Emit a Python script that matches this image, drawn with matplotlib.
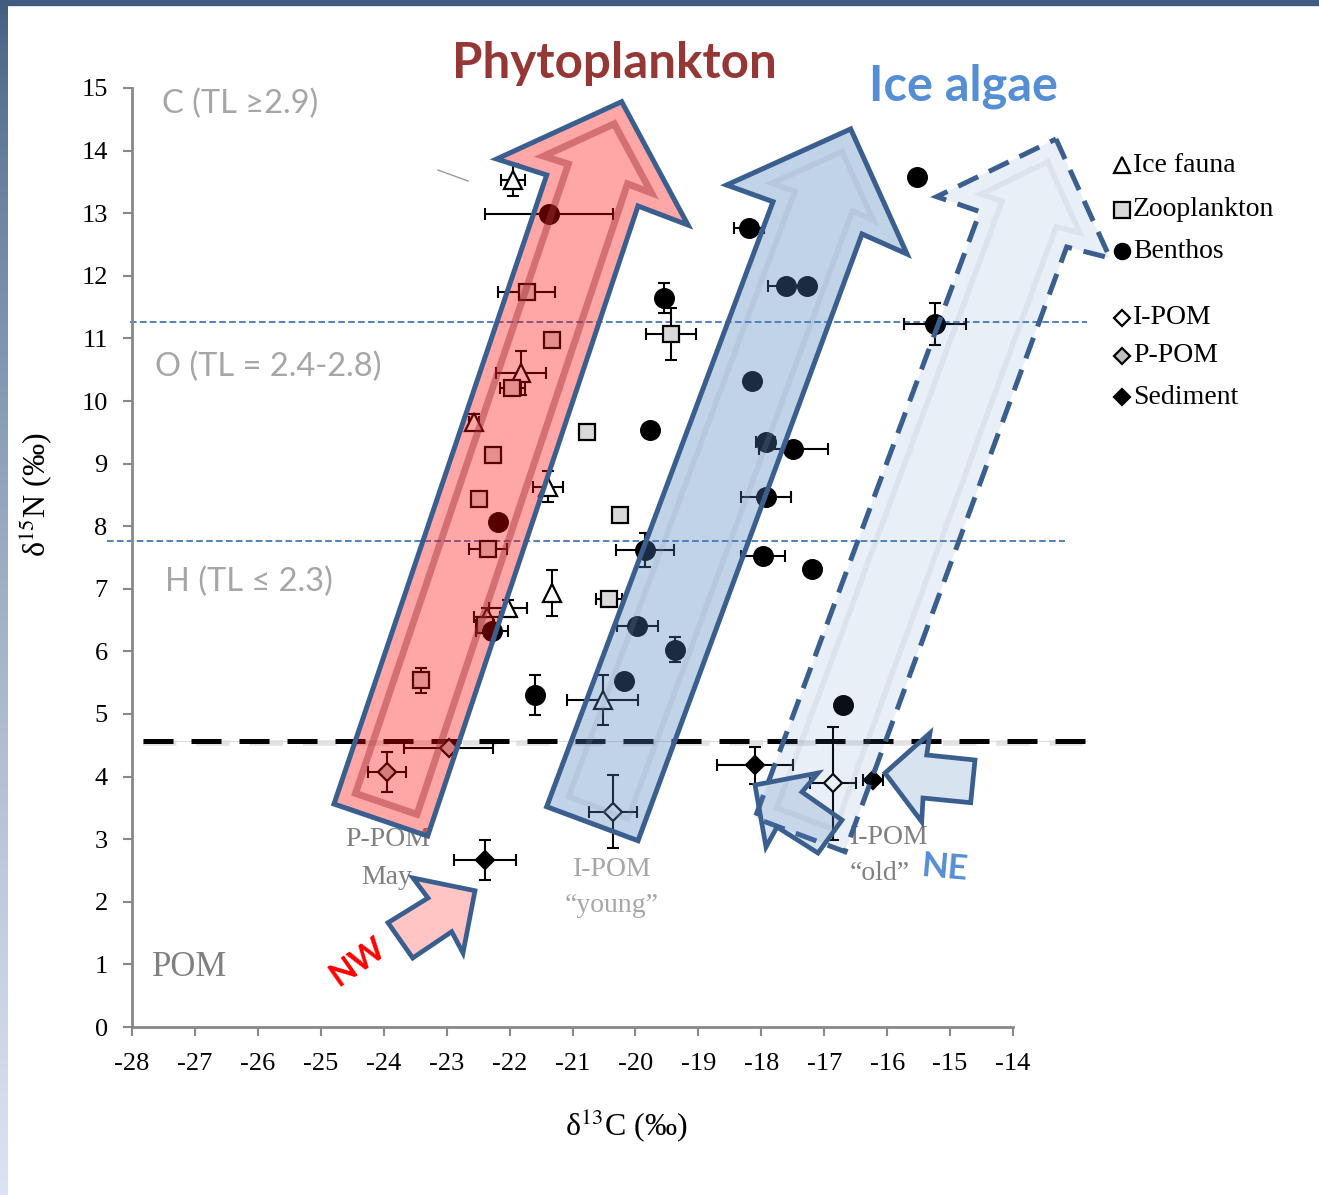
"""Stable isotope biplot (d13C vs d15N) with source arrows"""
import numpy as np
import matplotlib
matplotlib.use('Agg')
import matplotlib.pyplot as plt
from matplotlib.patches import Polygon, Rectangle
from matplotlib.transforms import Affine2D

plt.rcParams['font.family'] = ['Liberation Serif', 'DejaVu Serif']
plt.rcParams['mathtext.fontset'] = 'stix'
plt.rcParams['axes.unicode_minus'] = False

W, H, DPI = 1319, 1195, 100

# ===== data (d13C, d15N, error bars) =====
ice_x = [-21.95, -21.82, -22.57, -21.39, -21.32, -22.02, -22.36, -20.52]
ice_y = [13.53, 10.45, 9.67, 8.63, 6.93, 6.70, 6.55, 5.22]
ice_xe = [0.19, 0.40, 0.08, 0.24, 0.0, 0.30, 0.20, 0.56]
ice_ye = [0.26, 0.35, 0.12, 0.25, 0.37, 0.12, 0.15, 0.40]

zoo_x = [-21.73, -21.33, -21.96, -22.26, -22.49, -22.34, -20.77, -20.25, -19.43, -20.42, -23.41, -22.39]
zoo_y = [11.74, 10.97, 10.21, 9.14, 8.43, 7.64, 9.50, 8.18, 11.07, 6.84, 5.54, 6.42]
zoo_xe = [0.45, 0.0, 0.20, 0.10, 0.0, 0.30, 0.0, 0.0, 0.40, 0.20, 0.0, 0.15]
zoo_ye = [0.0, 0.0, 0.10, 0.05, 0.0, 0.05, 0.0, 0.0, 0.42, 0.05, 0.20, 0.10]

ben_x = [-21.37, -19.55, -19.77, -22.18, -19.85, -22.28, -21.60, -19.97, -19.37, -20.18, -18.20,
         -17.61, -17.27, -18.15, -17.93, -17.49, -17.92, -17.97, -17.20, -15.53, -15.24, -16.70]
ben_y = [12.99, 11.64, 9.54, 8.07, 7.62, 6.32, 5.30, 6.40, 6.03, 5.52, 12.77,
         11.84, 11.84, 10.32, 9.35, 9.23, 8.47, 7.52, 7.31, 13.58, 11.23, 5.14]
ben_xe = [1.02, 0.0, 0.0, 0.0, 0.46, 0.26, 0.0, 0.33, 0.0, 0.0, 0.24,
          0.28, 0.0, 0.0, 0.15, 0.55, 0.40, 0.35, 0.0, 0.0, 0.49, 0.0]
ben_ye = [0.0, 0.24, 0.0, 0.0, 0.27, 0.0, 0.32, 0.0, 0.20, 0.0, 0.0,
          0.0, 0.0, 0.0, 0.0, 0.0, 0.0, 0.0, 0.0, 0.0, 0.33, 0.0]

ipom_x = [-20.35, -16.86]
ipom_y = [3.44, 3.89]
ipom_xe = [0.38, 0.37]
ipom_ye = [0.58, 0.90]

ppom_x = [-23.95, -22.97]
ppom_y = [4.08, 4.45]
ppom_xe = [0.30, 0.70]
ppom_ye = [0.32, 0.05]

sed_x = [-22.39, -18.10, -16.22]
sed_y = [2.67, 4.18, 3.95]
sed_xe = [0.49, 0.60, 0.16]
sed_ye = [0.32, 0.30, 0.0]

tl_bounds = [11.26, 7.76]   # trophic level boundaries
pom_bound = 4.57

fig = plt.figure(figsize=(W / DPI, H / DPI), dpi=DPI)
fig.patch.set_facecolor('white')
# pixel coordinates, origin top-left
pix = Affine2D().scale(1 / DPI, -1 / DPI).translate(0, H / DPI) + fig.dpi_scale_trans

# ===== slide frame =====
bg = fig.add_axes([0, 0, 1, 1], zorder=-5)
grad = np.linspace(0, 1, 256)[:, None, None]
c0 = np.array([0x40, 0x5C, 0x80]) / 255
c1 = np.array([0xDC, 0xE4, 0xF3]) / 255
bg.imshow(c0 + (c1 - c0) * grad ** 0.7, extent=(0, 8, H, 0), aspect='auto')
bg.add_patch(Rectangle((0, 0), W, 5, color='#405C80'))
bg.set_xlim(0, W)
bg.set_ylim(H, 0)
bg.axis('off')

# ===== main axes =====
ax = fig.add_axes([132 / W, 1 - 1027 / H, 881 / W, 939 / H])
ax.set_xlim(-28, -14)
ax.set_ylim(0, 15)
ax.set_xticks(range(-28, -13))
ax.set_yticks(range(0, 16))
for s in ['top', 'right']:
    ax.spines[s].set_visible(False)
for s in ['left', 'bottom']:
    ax.spines[s].set_color('#888888')
    ax.spines[s].set_linewidth(2)
ax.tick_params(direction='out', length=6.5, width=1.5, color='#888888', labelsize=19)
ax.tick_params(axis='y', pad=11)
ax.tick_params(axis='x', pad=12)

# reference lines
for yb, x0, x1 in zip(tl_bounds, [-28.03, -28.4], [-12.82, -13.17]):
    ax.plot([x0, x1], [yb, yb], color='#4F81BD', lw=1.4, ls=(0, (3.4, 1.7)),
            clip_on=False, zorder=2)
ax.plot([-27.83, -12.82], [pom_bound, pom_bound], color='#DDDDDD', lw=0.8, clip_on=False, zorder=2)
ax.plot([-27.83, -12.82], [pom_bound - 0.04, pom_bound - 0.04], color='#BBBBBB', lw=4, alpha=0.4,
        ls=(0, (6, 3.6)), clip_on=False, zorder=1.9)
ax.plot([-27.83, -12.82], [pom_bound, pom_bound], color='black', lw=3.6, ls=(0, (6, 3.6)),
        clip_on=False, zorder=2)


def group(x, y, xe, ye, marker, ms, fc):
    x, y, xe, ye = map(np.asarray, (x, y, xe, ye))
    m = xe > 0
    ax.errorbar(x[m], y[m], xerr=xe[m], fmt='none', ecolor='black', elinewidth=1.5,
                capsize=4.5, capthick=1.5, zorder=3)
    m = ye > 0
    ax.errorbar(x[m], y[m], yerr=ye[m], fmt='none', ecolor='black', elinewidth=1.5,
                capsize=4.5, capthick=1.5, zorder=3)
    ax.plot(x, y, ls='none', marker=marker, ms=ms, mfc=fc, mec='black', mew=1.6, zorder=4)


group(ice_x, ice_y, ice_xe, ice_ye, '^', 13, 'white')
group(zoo_x, zoo_y, zoo_xe, zoo_ye, 's', 12, '#D9D9D9')
group(ben_x, ben_y, ben_xe, ben_ye, 'o', 13.5, 'black')
group(ipom_x, ipom_y, ipom_xe, ipom_ye, 'D', 9.5, 'white')
group(ppom_x, ppom_y, ppom_xe, ppom_ye, 'D', 9.5, '#BFBFBF')
group(sed_x, sed_y, sed_xe, sed_ye, 'D', 9.5, 'black')


# ===== arrows (pixel coords) =====
def inset(pts, d):
    p = np.asarray(pts, float)
    n = len(p)
    area = 0.5 * np.sum(p[:, 0] * np.roll(p[:, 1], -1) - np.roll(p[:, 0], -1) * p[:, 1])
    sgn = 1 if area > 0 else -1
    lines = []
    for i in range(n):
        a, b = p[i], p[(i + 1) % n]
        t = (b - a) / np.hypot(*(b - a))
        nrm = sgn * np.array([-t[1], t[0]])
        lines.append((a + d * nrm, t))
    out = []
    for i in range(n):
        (a1, t1), (a2, t2) = lines[i - 1], lines[i]
        M = np.array([t1, -t2]).T
        s = np.linalg.solve(M, a2 - a1)
        out.append(a1 + s[0] * t1)
    return np.array(out)


def arrow(pts, color, alpha, edge='#3A5F8F', lw=3.6, ls='-', stripe=None, z=5):
    ax.add_patch(Polygon(pts, closed=True, facecolor=color, alpha=alpha, edgecolor='none',
                         transform=pix, clip_on=False, zorder=z))
    if stripe is not None:
        ax.add_patch(Polygon(inset(pts, stripe[0]), closed=True, fill=False, edgecolor=stripe[1],
                             lw=stripe[2], alpha=stripe[3], joinstyle='miter',
                             transform=pix, clip_on=False, zorder=z + 0.1))
    ax.add_patch(Polygon(pts, closed=True, fill=False, edgecolor=edge, lw=lw, ls=ls,
                         joinstyle='miter', transform=pix, clip_on=False, zorder=z + 0.2))


red_arrow = [(621.7, 101.7), (688, 225), (638, 206), (427.7, 836), (334, 804), (546.7, 175), (496.7, 159)]
blue_arrow = [(850.7, 129), (907, 254), (862, 234), (638, 840.7), (546.7, 806.7), (773, 201.7), (726.7, 185)]
dash_arrow = [(1056, 139), (1110, 258), (1066.7, 247), (845, 851.7), (755, 818), (980, 211.7), (936.7, 196.7)]
nw_arrow = [(475, 890.7), (463, 953), (451.7, 931.7), (412.7, 958), (388, 922.7), (428, 898), (413, 878)]
ne_arrow1 = [(885, 773), (930, 733), (926.7, 755), (975, 760), (970.7, 802.7), (923, 798), (921.7, 821.7)]
ne_arrow2 = [(755, 785), (818, 773), (802, 792), (842, 820), (818, 853), (777, 827), (766, 847)]

arrow(red_arrow, 'red', 0.35, stripe=(17, '#A0303A', 5, 0.45))
arrow(blue_arrow, '#4F81BD', 0.35, stripe=(17, '#8A9BB0', 4, 0.18))
arrow(dash_arrow, '#4F81BD', 0.12, ls=(0, (4.4, 2.4)), stripe=(17, '#9AA5B5', 4, 0.15))
arrow(nw_arrow, 'red', 0.23, lw=3.4, z=6)
arrow(ne_arrow1, '#4F81BD', 0.22, lw=3.4, z=6)
arrow(ne_arrow2, '#4F81BD', 0.22, lw=3.4, z=6)

ax.plot([438, 468], [170, 181], color='#999999', lw=1, transform=pix, clip_on=False)

# ===== titles and annotations =====
sans = ['Lato', 'DejaVu Sans']
ax.text(614, 63, 'Phytoplankton', transform=pix, ha='center', va='center', family=sans,
        fontsize=35.5, fontweight='bold', color='#953735')
ax.text(963, 86, 'Ice algae', transform=pix, ha='center', va='center', family=sans,
        fontsize=35, fontweight='bold', color='#558ED5')
for x, y, s in [(162, 104, 'C (TL ≥2.9)'), (155, 367, 'O (TL = 2.4-2.8)'), (165, 582, 'H (TL ≤ 2.3)')]:
    ax.text(x, y, s, transform=pix, ha='left', va='center', family=sans, fontsize=23.5,
            color='#A6A6A6', zorder=7)

ax.text(152, 967, 'POM', transform=pix, ha='left', va='center', fontsize=25, color='#808080')
ax.text(388, 840, 'P-POM', transform=pix, ha='center', va='center', fontsize=20, color='#808080')
ax.text(387, 877, 'May', transform=pix, ha='center', va='center', fontsize=20, color='#808080')
ax.text(612, 870, 'I-POM', transform=pix, ha='center', va='center', fontsize=20, color='#A6A6A6')
ax.text(612, 906, '\u201cyoung\u201d', transform=pix, ha='center', va='center', fontsize=20, color='#A6A6A6')
ax.text(889, 838, 'I-POM', transform=pix, ha='center', va='center', fontsize=20, color='#808080')
ax.text(880, 873, '\u201cold\u201d', transform=pix, ha='center', va='center', fontsize=20, color='#808080')

ax.text(358, 962, 'NW', transform=pix, ha='center', va='center', rotation=35, family=sans,
        fontsize=24, fontweight='bold', color='red')
ax.text(944, 868, 'NE', transform=pix, ha='center', va='center', rotation=-5, family=sans,
        fontsize=25, fontweight='bold', color='#558ED5')

# ===== legend =====
leg_labels = ['Ice fauna', 'Zooplankton', 'Benthos', 'I-POM', 'P-POM', 'Sediment']
leg_markers = ['^', 's', 'o', 'D', 'D', 'D']
leg_sizes = [11, 11, 11, 8, 8, 8]
leg_colors = ['white', '#D9D9D9', 'black', 'white', '#BFBFBF', 'black']
leg_y = [165, 210, 251, 318, 356, 397]
for lab, mk, sz, fc, y in zip(leg_labels, leg_markers, leg_sizes, leg_colors, leg_y):
    ax.plot([1122], [y], marker=mk, ms=sz, mfc=fc, mec='black', mew=1.6, ls='none',
            transform=pix, clip_on=False)
    ax.text(1133, y, lab, transform=pix, ha='left', va='center', fontsize=20)

# ===== axis labels =====
ax.text(626, 1125, 'δ$^{13}$C (‰)', transform=pix, ha='center', va='center', fontsize=23)
ax.text(35, 495, 'δ$^{15}$N (‰)', transform=pix, ha='center', va='center', fontsize=23, rotation=90)

fig.savefig('out.png', dpi=DPI, facecolor='white')
